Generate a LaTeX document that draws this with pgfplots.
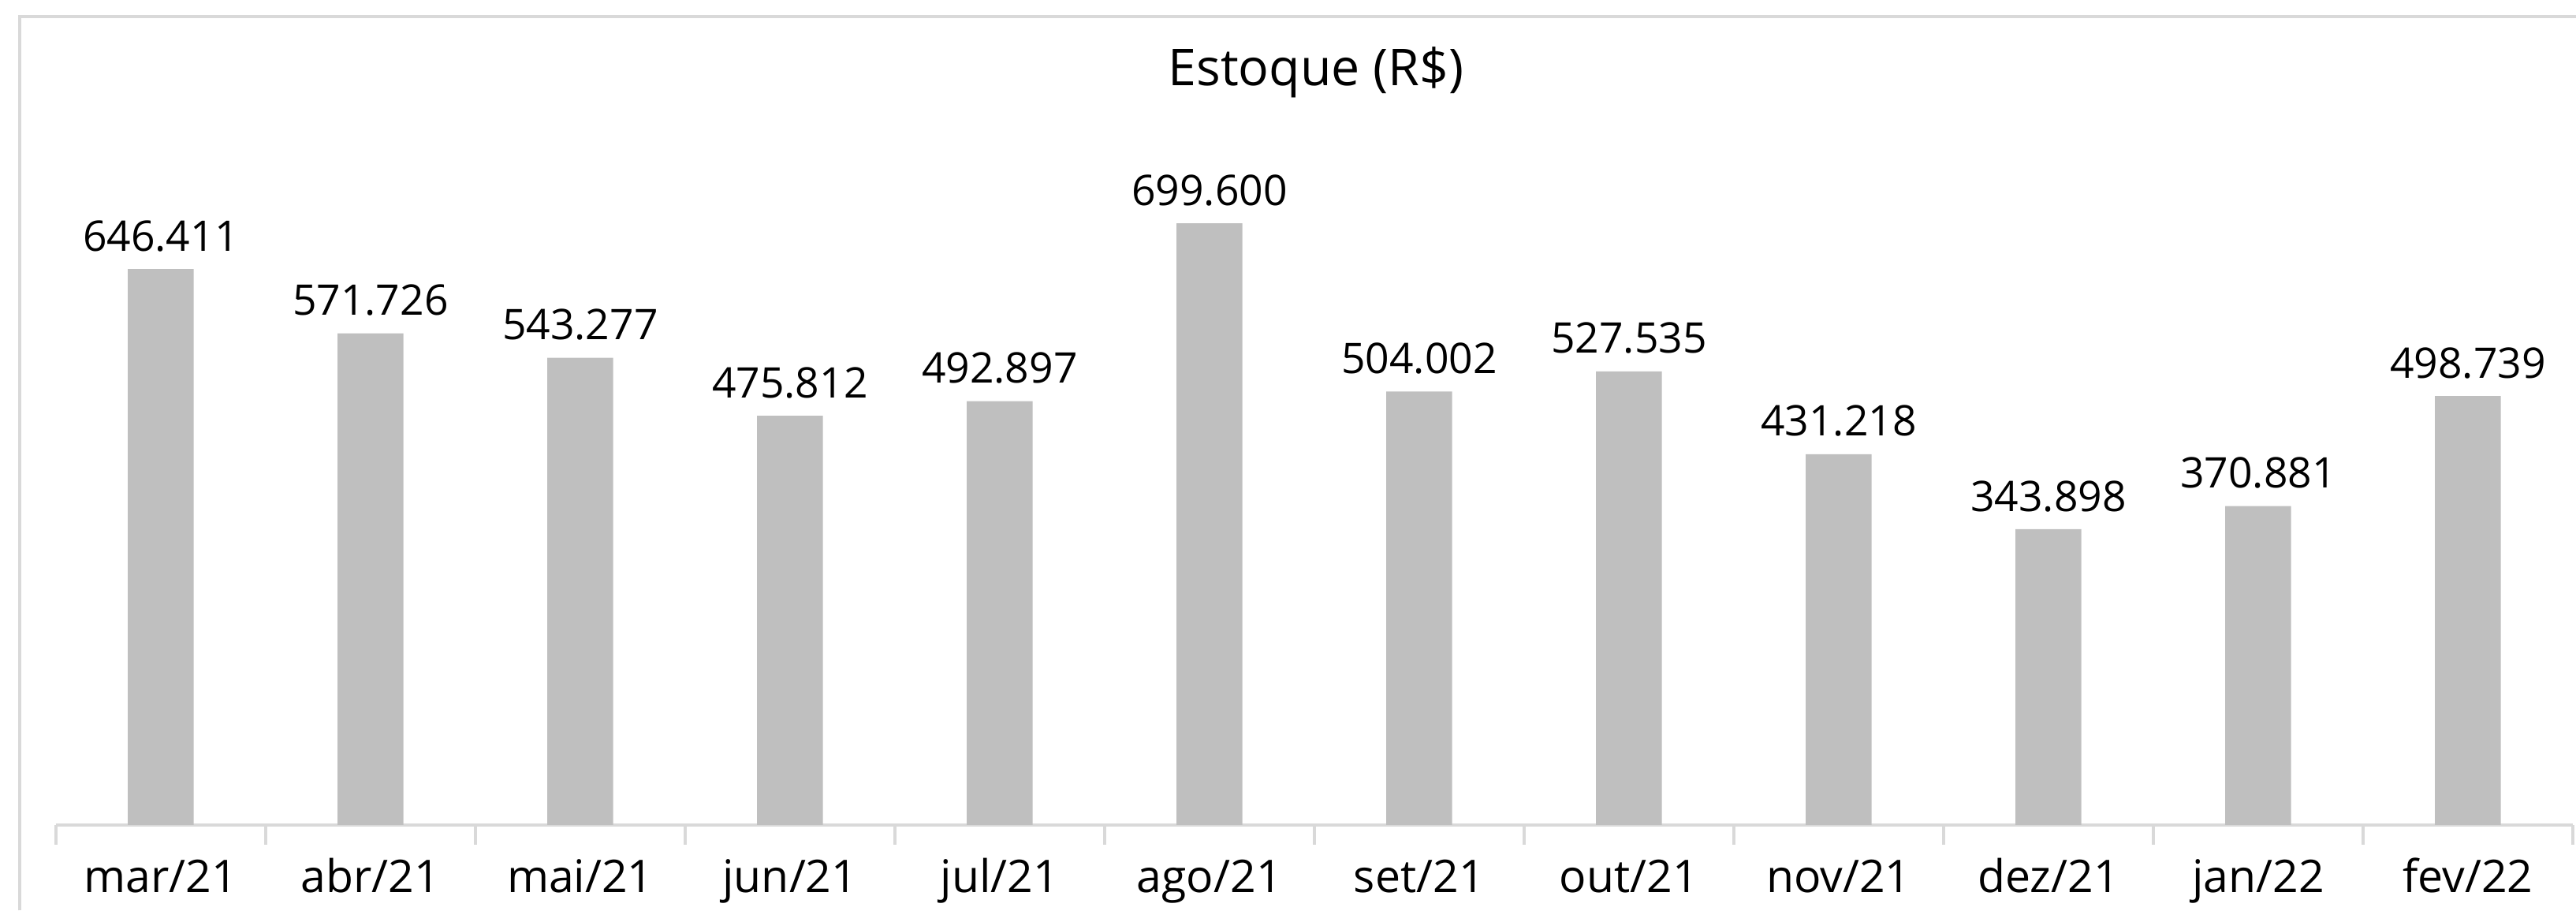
\documentclass[border=0pt]{standalone}
\usepackage{pgfplots}
\pgfplotsset{compat=1.18}
\usepackage{pgfplotstable}
\usepackage{fontspec}
\setmainfont{Open Sans}
\definecolor{barc}{HTML}{BFBFBF}
\definecolor{linec}{HTML}{D9D9D9}
\pgfplotstableread{
x y lab
0 646.411 646.411
1 571.726 571.726
2 543.277 543.277
3 475.812 475.812
4 492.897 492.897
5 699.600 699.600
6 504.002 504.002
7 527.535 527.535
8 431.218 431.218
9 343.898 343.898
10 370.881 370.881
11 498.739 498.739
}\datatable
\begin{document}
\begin{tikzpicture}
\useasboundingbox (0,0) rectangle (156.8mm,55.4mm);
\draw[linec, line width=0.5pt] (1.2mm,0) -- (1.2mm,54.4mm) -- (156.8mm,54.4mm);
\node[font=\fontsize{8.8}{10}\selectfont, anchor=base] at (80.1mm,50.2mm) {Estoque (R\$)};
\begin{axis}[
  at={(3.4mm,5.2mm)}, anchor=south west,
  scale only axis, width=153.2mm, height=40.2mm,
  xmin=-0.5, xmax=11.5, ymin=0, ymax=768.2,
  axis x line*=bottom, axis y line=none,
  x axis line style={draw=linec, line width=0.5pt},
  xtick={0,...,11},
  xticklabels={mar/21,abr/21,mai/21,jun/21,jul/21,ago/21,set/21,out/21,nov/21,dez/21,jan/22,fev/22},
  major tick length=0pt,
  minor xtick={-0.5,0.5,...,11.5},
  minor tick length=1.2mm,
  tick align=outside,
  minor tick style={draw=linec, line width=0.5pt},
  xticklabel style={font=\fontsize{7.8}{9}\selectfont, anchor=base, yshift=-4.1mm},
  ybar, bar width=4mm,
  clip=false,
]
\addplot[fill=barc, draw=none,
  nodes near coords, point meta=explicit symbolic,
  nodes near coords style={font=\fontsize{7.3}{9}\selectfont, anchor=base, yshift=1.1mm, text=black}]
  table[x=x, y=y, meta=lab] {\datatable};
\end{axis}
\end{tikzpicture}
\end{document}
